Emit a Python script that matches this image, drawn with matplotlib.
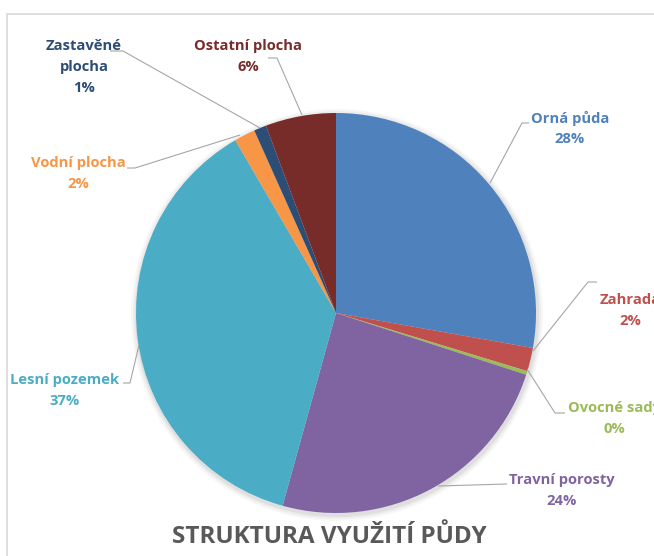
import matplotlib
matplotlib.use("Agg")
import matplotlib.pyplot as plt
from matplotlib.patches import Circle, Rectangle

categories = ["Orná půda", "Zahrada", "Ovocné sady", "Travní porosty",
              "Lesní pozemek", "Vodní plocha", "Zastavěné plocha", "Ostatní plocha"]
values = [27.8, 1.9, 0.3, 24.3, 37.3, 1.7, 1.0, 5.7]
colors = ["#4F81BD", "#C0504D", "#9BBB59", "#8064A2",
          "#4BACC6", "#F79646", "#2C4D75", "#772C2A"]
title = "STRUKTURA VYUŽITÍ PŮDY"

W, H = 654, 556
fig = plt.figure(figsize=(W / 100, H / 100), dpi=100)
ax = fig.add_axes([0, 0, 1, 1])

def Y(y):
    return H - y

cx, cy, r = 336, 313, 200

# soft glow/shadow
for k, a in [(6, 0.03), (4, 0.04), (2, 0.06)]:
    ax.add_patch(Circle((cx + 1, Y(cy + 2)), r + k, color="#000000", alpha=a, lw=0, zorder=0))

wedges, _ = ax.pie(values, colors=colors, startangle=90, counterclock=False,
                   center=(cx, Y(cy)), radius=r, wedgeprops=dict(linewidth=0),
                   frame=True)
for w in wedges:
    w.set_zorder(2)

# frame border
ax.add_patch(Rectangle((7, Y(600)), 700, 600 - 14, fill=False, ec="#D9D9D9", lw=1.2, zorder=1))

# label layout: (text center x, first line center y), leader polyline
label_layout = {
    "Orná půda": ((570, 118), [(529, 123), (522, 123), (490, 183)]),
    "Zahrada": ((630, 300), [(597, 282), (588, 282), (533, 351)]),
    "Ovocné sady": ((614, 408), [(527, 369), (555, 413), (565, 413)]),
    "Travní porosty": ((562, 480), [(438, 486), (507, 484)]),
    "Lesní pozemek": ((65, 380), [(123, 383), (130, 383), (139, 345)]),
    "Vodní plocha": ((78, 163), [(127, 168), (135, 168), (240, 135)]),
    "Zastavěné plocha": ((84, 46), [(110, 51), (123, 51), (260, 128)]),
    "Ostatní plocha": ((248, 46), [(268, 58), (277, 58), (302, 115)]),
}
display_names = {"Zastavěné plocha": ["Zastavěné", "plocha"]}

fam = ["Open Sans", "DejaVu Sans"]
for cat, val, col in zip(categories, values, colors):
    (tx, ty), line = label_layout[cat]
    xs = [p[0] for p in line]
    ys = [Y(p[1]) for p in line]
    ax.plot(xs, ys, color="#A6A6A6", lw=0.8, zorder=3, solid_capstyle="butt")
    lines = display_names.get(cat, [cat]) + [f"{round(val)}%"]
    for i, t in enumerate(lines):
        ax.text(tx, Y(ty + 21 * i), t, color=col, fontsize=10.6, fontweight="bold",
                family=fam, ha="center", va="center", zorder=4)

ax.text(329, Y(537), title, color="#595959", fontsize=17.5, fontweight="bold",
        family=fam, ha="center", va="center")

ax.set_xlim(0, W)
ax.set_ylim(0, H)
ax.set_aspect("equal")
ax.axis("off")
fig.savefig("out.png", dpi=100)
